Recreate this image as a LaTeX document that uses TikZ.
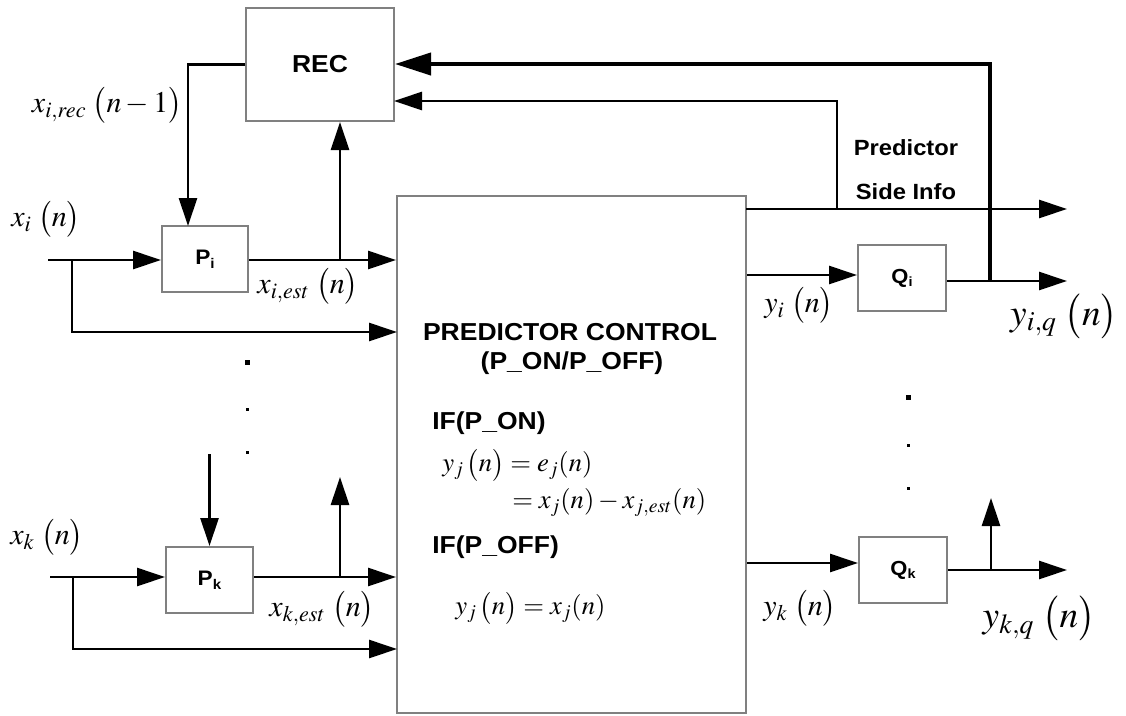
\documentclass[tikz,border=0pt]{standalone}
\usepackage{mathptmx}
\usepackage[no-math]{fontspec}
\newfontfamily\arialb{Liberation Sans}[FakeStretch=1.08]
\usetikzlibrary{arrows.meta}
\definecolor{boxgray}{RGB}{128,128,128}
\tikzset{
  box/.style={draw=boxgray, line width=1.5pt, inner sep=0pt, fill=white},
  bigtxt/.style={inner sep=0pt, font=\arialb\bfseries\fontsize{18.4pt}{22pt}\selectfont},
  smtxt/.style={inner sep=0pt, font=\arialb\bfseries\fontsize{16.5pt}{20pt}\selectfont},
  ptxt/.style={font=\arialb\bfseries\fontsize{15.75pt}{18pt}\selectfont},
  qtxt/.style={font=\arialb\bfseries\fontsize{15.25pt}{17pt}\selectfont},
  lbl/.style={inner sep=0pt, font=\fontsize{22.5pt}{26pt}\selectfont},
  qlbl/.style={inner sep=0pt, font=\fontsize{28pt}{32pt}\selectfont},
  eqn/.style={inner sep=0pt, anchor=west, font=\fontsize{20pt}{24pt}\selectfont},
  arr/.style={line width=2pt, -{Triangle[length=21pt,width=13.5pt]}},
  tarr/.style={line width=3pt, -{Triangle[length=27pt,width=16.5pt]}},
}
\begin{document}
\begin{tikzpicture}[x=0.75pt,y=-0.75pt]
\useasboundingbox (0,0) rectangle (1126,715);
% boxes
\node[box, bigtxt, minimum width=111pt, minimum height=84.75pt] (rec) at (320,64.5) {REC};
\node[box, ptxt, minimum width=64.5pt, minimum height=49.5pt] (Pi) at (205,259) {P\raisebox{-0.35ex}{\fontsize{10.5pt}{11pt}\selectfont i}};
\node[box, ptxt, minimum width=65.25pt, minimum height=49.5pt] (Pk) at (209.5,580) {P\raisebox{-0.35ex}{\fontsize{10.5pt}{11pt}\selectfont k}};
\node[box, minimum width=261.75pt, minimum height=387.75pt] (big) at (571.5,454.5) {};
\node[box, qtxt, minimum width=66pt, minimum height=49.5pt] (Qi) at (902,278) {Q\raisebox{-0.35ex}{\fontsize{10pt}{10pt}\selectfont i}};
\node[box, qtxt, minimum width=66pt, minimum height=49.5pt] (Qk) at (903,570) {Q\raisebox{-0.35ex}{\fontsize{10pt}{10pt}\selectfont k}};
% coordinates
\coordinate (piin) at (188,226);
\coordinate (xi) at (48,260);
\coordinate (bi) at (72,260);
\coordinate (bigi) at (397,332);
\coordinate (upi) at (340,260);
\coordinate (pktop) at (209.5,454);
\coordinate (xk) at (50,577);
\coordinate (bk) at (73,577);
\coordinate (bigk) at (397,649);
\coordinate (upk) at (340,577);
\coordinate (upkend) at (340,477);
\coordinate (sidestart) at (746,209);
\coordinate (sideend) at (1067,209);
\coordinate (sidebr) at (837,209);
\coordinate (recthin) at (394,101);
\coordinate (thickbr) at (990,281);
\coordinate (yiqend) at (1067,281);
\coordinate (ykqend) at (1067,570);
\coordinate (upq) at (991,570);
\coordinate (upqend) at (991,498);
% connectors upper branch
\draw[arr] (rec.west) -| (piin);
\draw[arr] (xi) -- (Pi.west |- xi);
\draw[arr] (bi) |- (bigi);
\draw[arr] (Pi.east |- xi) -- (big.west |- xi);
\draw[arr] (upi) -- (rec.south -| upi);
% lower branch
\draw[arr] (pktop) -- (Pk.north);
\draw[arr] (xk) -- (Pk.west |- xk);
\draw[arr] (bk) |- (bigk);
\draw[arr] (Pk.east |- xk) -- (big.west |- xk);
\draw[arr] (upk) -- (upkend);
% right side
\draw[arr] (sidestart) -- (sideend);
\draw[arr] (sidebr) |- (recthin);
\draw[arr] (big.east |- 0,275) -- (Qi.west |- 0,275);
\draw[arr] (Qi.east |- yiqend) -- (yiqend);
\draw[tarr] (thickbr) |- (rec.east |- 0,64);
\draw[arr] (big.east |- 0,563) -- (Qk.west |- 0,563);
\draw[arr] (Qk.east |- ykqend) -- (ykqend);
\draw[arr] (upq) -- (upqend);
% dots
\fill (244.5,359.5) rectangle (249.5,364.5);
\fill (245.5,407.5) rectangle (248.5,410.5);
\fill (245.5,450.5) rectangle (248.5,453.5);
\fill (905.5,394.5) rectangle (910.5,399.5);
\fill (906.5,443.5) rectangle (909.5,446.5);
\fill (906.5,486.5) rectangle (909.5,489.5);
% labels
\node[lbl] (lrec) at (107,105) {$x_{i,rec}\;\bigl(n-1\bigr)$};
\node[lbl] (lxi) at (46,219) {$x_{i}\;\bigl(n\bigr)$};
\node[lbl] (lxiest) at (308,286) {$x_{i,est}\;\bigl(n\bigr)$};
\node[lbl] (lxk) at (47,537) {$x_{k}\;\bigl(n\bigr)$};
\node[lbl] (lxkest) at (322,609) {$x_{k,est}\;\bigl(n\bigr)$};
\node[lbl] (lyi) at (799,305) {$y_{i}\;\bigl(n\bigr)$};
\node[qlbl] (lyiq) at (1064,316) {$y_{i,q}\;\bigl(n\bigr)$};
\node[lbl] (lyk) at (800,608) {$y_{k}\;\bigl(n\bigr)$};
\node[qlbl] (lykq) at (1039,618) {$y_{k,q}\;\bigl(n\bigr)$};
\node[smtxt] (pred) at (906,148) {Predictor};
\node[smtxt] (side) at (906,192) {Side Info};
% big box text
\node[bigtxt] (pc) at (570,332) {PREDICTOR CONTROL};
\node[bigtxt] (pp) at (572,363) {(P\_ON/P\_OFF)};
\node[bigtxt, anchor=west] (ifon) at (432,423) {IF(P\_ON)};
\node[eqn] (eq1) at (442,465) {$y_{j}\,\bigl(n\bigr)=e_{j}(n)$};
\node[eqn] (eq2) at (512,503) {$=x_{j}(n)-x_{j,est}(n)$};
\node[bigtxt, anchor=west] (ifoff) at (432,547) {IF(P\_OFF)};
\node[eqn] (eq3) at (455,608) {$y_{j}\,\bigl(n\bigr)=x_{j}(n)$};
\end{tikzpicture}
\end{document}
